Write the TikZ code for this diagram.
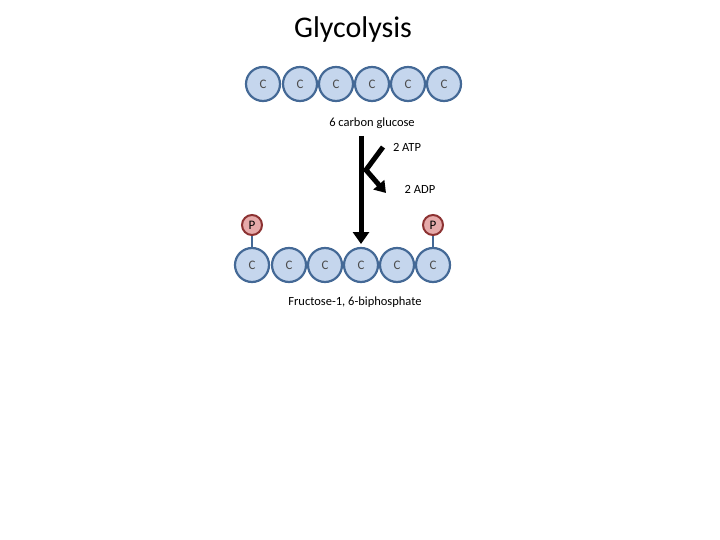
\documentclass[tikz,border=0pt]{standalone}
\usepackage{fontspec}
\setmainfont{Carlito}
\usetikzlibrary{arrows.meta}
\definecolor{cfill}{RGB}{197,214,237}
\definecolor{cdraw}{RGB}{68,105,150}
\definecolor{pfill}{RGB}{230,170,170}
\definecolor{pdraw}{RGB}{140,50,50}
\begin{document}
\begin{tikzpicture}[x=1pt,y=-1pt,
  carb/.style={circle,fill=cfill,draw=cdraw,line width=2.2pt,minimum size=34pt,inner sep=0pt,font=\fontsize{13}{15}\selectfont,text=black!70},
  phos/.style={circle,fill=pfill,draw=pdraw,line width=2pt,minimum size=20pt,inner sep=0pt,font=\fontsize{13}{15}\selectfont},
  lbl/.style={font=\fontsize{12.5}{15}\selectfont},
  bigarrow/.style={line width=5pt,-{Triangle[length=12pt,width=16pt]}}]
\useasboundingbox (0,0) rectangle (720,540);
\node[font=\fontsize{30}{34}\selectfont] (title) at (353,30) {Glycolysis};
\foreach \i/\x in {1/263,2/300,3/336,4/372,5/408,6/444}{
  \node[carb] (t\i) at (\x,84) {C};}
\node[lbl] (glu) at (372,123) {6 carbon glucose};
\node[lbl] (atp) at (407,147) {2 ATP};
\node[lbl] (adp) at (420,189) {2 ADP};
\coordinate (a0) at (361,136);
\coordinate (a1) at (361,244);
\draw[bigarrow] (a0) -- (a1);
\coordinate (s0) at (383,147);
\coordinate (s1) at (366,170);
\coordinate (s2) at (386,193);
\draw[line width=5pt,line join=miter,-{Triangle[length=11pt,width=14pt]}] (s0) -- (s1) -- (s2);
\foreach \i/\x in {1/252,2/289,3/325,4/361,5/397,6/433}{
  \node[carb] (b\i) at (\x,265) {C};}
\node[phos] (p1) at (252,225) {P};
\node[phos] (p2) at (433,225) {P};
\draw[cdraw,line width=2.2pt] (p1) -- (b1);
\draw[cdraw,line width=2.2pt] (p2) -- (b6);
\node[lbl] (fru) at (355,302) {Fructose-1, 6-biphosphate};
\end{tikzpicture}
\end{document}
